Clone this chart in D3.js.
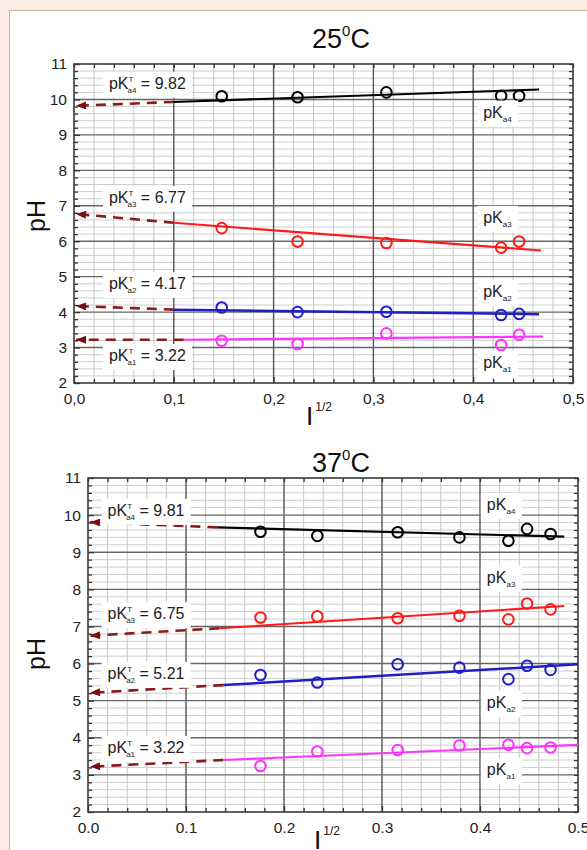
<!DOCTYPE html>
<html>
<head>
<meta charset="utf-8">
<script src="https://cdn.jsdelivr.net/npm/d3@7"></script>
<style>
  body { margin: 0; background: #fbebe0; }
  svg { display: block; font-family: "Liberation Sans", Arial, sans-serif; }
</style>
</head>
<body>
<div id="chart"></div>
<script>
// ---- data ----
const xTop = [0.148, 0.224, 0.313, 0.428, 0.446];
const top_pKa4 = [10.09, 10.06, 10.20, 10.10, 10.10];
const top_pKa3 = [6.37, 5.99, 5.95, 5.82, 5.99];
const top_pKa2 = [4.13, 4.00, 4.01, 3.92, 3.95];
const top_pKa1 = [3.19, 3.10, 3.40, 3.07, 3.36];
// fitted lines: [x0, y0, x1, y1]
const top_fits = [[0.100, 9.93, 0.466, 10.28], [0.100, 6.52, 0.468, 5.74], [0.100, 4.07, 0.466, 3.94], [0.110, 3.22, 0.470, 3.31]];
const top_pKT = [9.82, 6.77, 4.17, 3.22];

const xBot = [0.176, 0.234, 0.316, 0.379, 0.429, 0.448, 0.472];
const bot_pKa4 = [9.55, 9.44, 9.54, 9.40, 9.31, 9.63, 9.49];
const bot_pKa3 = [7.24, 7.27, 7.22, 7.29, 7.19, 7.62, 7.46];
const bot_pKa2 = [5.69, 5.49, 5.98, 5.89, 5.58, 5.94, 5.83];
const bot_pKa1 = [3.24, 3.63, 3.67, 3.79, 3.81, 3.72, 3.74];
const bot_fits = [[0.132, 9.67, 0.486, 9.42], [0.134, 6.95, 0.486, 7.55], [0.138, 5.42, 0.500, 5.98], [0.138, 3.40, 0.500, 3.81]];
const bot_pKT = [9.81, 6.75, 5.21, 3.22];

const subs = ['a4', 'a3', 'a2', 'a1'];
const colors = ['#000000', '#ff1a1a', '#1f1fc4', '#ff33ff'];
const yTicks = [2, 3, 4, 5, 6, 7, 8, 9, 10, 11];
const xTicks = [0, 0.1, 0.2, 0.3, 0.4, 0.5];

const W = 587, H = 850;
const svg = d3.select('#chart').append('svg').attr('width', W).attr('height', H);

// page background + white card
svg.append('rect').attr('width', W).attr('height', H).attr('fill', '#fbebe0');
svg.append('rect').attr('x', 9.5).attr('y', 10.5).attr('width', 620).attr('height', 900)
    .attr('fill', '#fff').attr('stroke', '#c9b6aa');

const defs = svg.append('defs');
defs.append('marker')
    .attr('id', 'arrow')
    .attr('viewBox', '0 0 10 8')
    .attr('refX', 10).attr('refY', 4)
    .attr('markerWidth', 11).attr('markerHeight', 8)
    .attr('markerUnits', 'userSpaceOnUse')
    .attr('orient', 'auto')
  .append('path')
    .attr('d', 'M0,0 L10,4 L0,8 Z')
    .attr('fill', '#7a0f0f');

function drawPanel(cfg) {
    const { left, right, top, bottom, xs, series, fits, pKT, title, sep, leftLabels, rightLabels, titleY, pHY, iPos } = cfg;
    const x = d3.scaleLinear().domain([0, 0.5]).range([left, right]);
    const y = d3.scaleLinear().domain([2, 11]).range([bottom, top]);
    const g = svg.append('g');

    // grid
    const minorX = d3.range(0, 0.5001, 0.02).filter(v => Math.abs(v * 10 - Math.round(v * 10)) > 1e-6);
    const minorY = d3.range(2, 11.001, 0.2).filter(v => Math.abs(v - Math.round(v)) > 1e-6);
    g.selectAll('.minor-x').data(minorX).join('line')
        .attr('x1', d => x(d)).attr('x2', d => x(d)).attr('y1', top).attr('y2', bottom)
        .attr('stroke', '#c2c2c2').attr('stroke-width', 0.9);
    g.selectAll('.minor-y').data(minorY).join('line')
        .attr('y1', d => y(d)).attr('y2', d => y(d)).attr('x1', left).attr('x2', right)
        .attr('stroke', '#c8c8c8').attr('stroke-width', 0.9);
    g.selectAll('.major-x').data([0.1, 0.2, 0.3, 0.4]).join('line')
        .attr('x1', d => x(d)).attr('x2', d => x(d)).attr('y1', top).attr('y2', bottom)
        .attr('stroke', '#555').attr('stroke-width', 1.4);
    g.selectAll('.major-y').data(d3.range(3, 11)).join('line')
        .attr('y1', d => y(d)).attr('y2', d => y(d)).attr('x1', left).attr('x2', right)
        .attr('stroke', '#666').attr('stroke-width', 1.4);

    // axes (inward ticks)
    const ax = [
        g.append('g').attr('transform', `translate(0,${bottom})`)
            .call(d3.axisBottom(x).tickValues(xTicks).tickSize(-6).tickPadding(10).tickFormat(sep)),
        g.append('g').attr('transform', `translate(0,${bottom})`)
            .call(d3.axisBottom(x).tickValues(minorX).tickSize(-4).tickFormat('')),
        g.append('g').attr('transform', `translate(0,${top})`)
            .call(d3.axisTop(x).tickValues(d3.range(0, 0.5001, 0.02)).tickSize(-4).tickFormat('')),
        g.append('g').attr('transform', `translate(${left},0)`)
            .call(d3.axisLeft(y).tickValues(yTicks).tickSize(-6).tickPadding(7).tickFormat(d3.format('d'))),
        g.append('g').attr('transform', `translate(${left},0)`)
            .call(d3.axisLeft(y).tickValues(minorY).tickSize(-4).tickFormat('')),
        g.append('g').attr('transform', `translate(${right},0)`)
            .call(d3.axisRight(y).tickValues(d3.range(2, 11.001, 0.2)).tickSize(-4).tickFormat(''))
    ];
    ax.forEach(a => {
        a.select('.domain').remove();
        a.selectAll('line').attr('stroke', '#333').attr('stroke-width', 1.3);
        a.selectAll('text').attr('font-size', 15.5).attr('fill', '#222')
            .attr('font-family', '"Liberation Sans", Arial, sans-serif');
    });
    g.append('rect').attr('x', left).attr('y', top).attr('width', right - left).attr('height', bottom - top)
        .attr('fill', 'none').attr('stroke', '#3a3a3a').attr('stroke-width', 1.6);

    // extrapolation arrows + fits + points
    fits.forEach((f, i) => {
        g.append('line')
            .attr('x1', x(f[0])).attr('y1', y(f[1]))
            .attr('x2', x(0) + 2).attr('y2', y(pKT[i]))
            .attr('stroke', '#8b1a1a').attr('stroke-width', 2.6)
            .attr('stroke-dasharray', '10,7')
            .attr('marker-end', 'url(#arrow)');
        g.append('line')
            .attr('x1', x(f[0])).attr('y1', y(f[1]))
            .attr('x2', x(f[2])).attr('y2', y(f[3]))
            .attr('stroke', colors[i]).attr('stroke-width', i === 2 ? 2.5 : 2.1);
        g.selectAll(null).data(series[i]).join('circle')
            .attr('cx', (d, j) => x(xs[j])).attr('cy', d => y(d))
            .attr('r', 5.3)
            .attr('fill', 'none').attr('stroke', colors[i]).attr('stroke-width', 2);
    });

    // labels with white boxes
    function boxed(el) {
        const b = el.node().getBBox();
        g.insert('rect', () => el.node())
            .attr('x', b.x - 6).attr('y', b.y - 3).attr('width', b.width + 12).attr('height', b.height + 6)
            .attr('fill', '#fff');
    }
    leftLabels.forEach((p, i) => {
        const t = g.append('text').attr('x', x(p[0])).attr('y', y(p[1]) + 6)
            .attr('font-size', 16).attr('fill', '#222');
        t.append('tspan').text('pK');
        t.append('tspan').attr('font-size', 8).attr('dy', -7).text('T');
        t.append('tspan').attr('font-size', 8).attr('dx', -5).attr('dy', 11).text(subs[i]);
        t.append('tspan').attr('dy', -4).text(' = ' + pKT[i].toFixed(2));
        boxed(t);
    });
    rightLabels.forEach((p, i) => {
        const t = g.append('text').attr('x', x(p[0])).attr('y', y(p[1]) + 5)
            .attr('font-size', 16).attr('fill', '#222');
        t.append('tspan').text('pK');
        t.append('tspan').attr('font-size', 8).attr('dy', 4).text(subs[i]);
        boxed(t);
    });

    // title
    const tt = g.append('text').attr('x', 341).attr('y', titleY).attr('text-anchor', 'middle')
        .attr('font-size', 27).attr('fill', '#111');
    tt.append('tspan').text(title);
    tt.append('tspan').attr('font-size', 15).attr('dy', -12).text('0');
    tt.append('tspan').attr('dy', 12).text('C');

    // axis titles
    g.append('text').attr('transform', `translate(45,${pHY}) rotate(-90)`)
        .attr('text-anchor', 'middle').attr('font-size', 25).attr('fill', '#111').text('pH');
    const it = g.append('text').attr('x', iPos[0]).attr('y', iPos[1]).attr('font-size', 26).attr('fill', '#111');
    it.append('tspan').text('I');
    it.append('tspan').attr('font-size', 12).attr('dx', 2).attr('dy', -14).text('1/2');
}

drawPanel({
    left: 74, right: 573, top: 64, bottom: 383,
    xs: xTop, series: [top_pKa4, top_pKa3, top_pKa2, top_pKa1],
    fits: top_fits, pKT: top_pKT, title: '25',
    sep: d => d3.format('.1f')(d).replace('.', ','),
    leftLabels: [[0.035, 10.47], [0.035, 7.25], [0.035, 4.82], [0.035, 2.79]],
    rightLabels: [[0.41, 9.63], [0.41, 6.66], [0.41, 4.57], [0.41, 2.56]],
    titleY: 48, pHY: 216, iPos: [306, 425]
});

drawPanel({
    left: 88, right: 578, top: 478, bottom: 812,
    xs: xBot, series: [bot_pKa4, bot_pKa3, bot_pKa2, bot_pKa1],
    fits: bot_fits, pKT: bot_pKT, title: '37',
    sep: d => d3.format('.1f')(d),
    leftLabels: [[0.02, 10.14], [0.02, 7.36], [0.02, 5.75], [0.02, 3.75]],
    rightLabels: [[0.407, 10.27], [0.407, 8.31], [0.407, 4.94], [0.407, 3.13]],
    titleY: 472, pHY: 654, iPos: [314, 849]
});
</script>
</body>
</html>
